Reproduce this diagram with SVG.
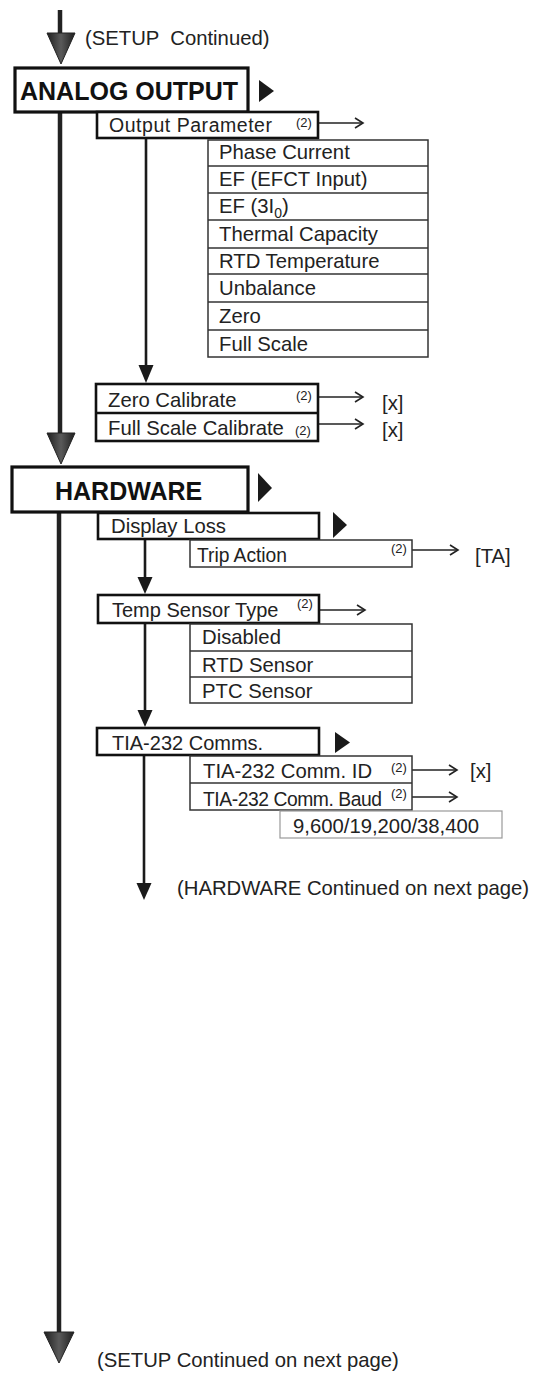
<svg xmlns="http://www.w3.org/2000/svg" width="539" height="1394" viewBox="0 0 539 1394">
<defs>
<linearGradient id="headGrad" x1="0" y1="0" x2="1" y2="0">
<stop offset="0" stop-color="#1e1e1e"/>
<stop offset="0.5" stop-color="#5a5a5a"/>
<stop offset="1" stop-color="#1e1e1e"/>
</linearGradient>
<marker id="chev" markerWidth="12" markerHeight="12" refX="9" refY="6" orient="auto" markerUnits="userSpaceOnUse">
<polyline points="1,1 9,6 1,11" fill="none" stroke="#222" stroke-width="1.6"/>
</marker>
</defs>
<style>
.t{font-family:"Liberation Sans",Arial,sans-serif;fill:#222;font-size:20.3px}
.b{font-family:"Liberation Sans",Arial,sans-serif;fill:#111;font-size:25px;font-weight:bold}
.sup{font-family:"Liberation Sans",Arial,sans-serif;fill:#222;font-size:13px}
.main{fill:#fff;stroke:#111;stroke-width:3.2}
.sub{fill:#fff;stroke:#111;stroke-width:2.6}
.opt{fill:#fff;stroke:#333;stroke-width:1.5}
.sep{stroke:#333;stroke-width:1.3}
.ind{fill:#1a1a1a}
.trunk{stroke:#222;stroke-width:4.5;fill:none}
.branch{stroke:#1a1a1a;stroke-width:2.6;fill:none}
.harr{stroke:#222;stroke-width:1.6;fill:none;marker-end:url(#chev)}
.bighead{fill:url(#headGrad);stroke:#222;stroke-width:1}
.smallhead{fill:#1a1a1a}
</style>

<g id="connectors">
<line class="trunk" x1="60" y1="10" x2="60" y2="36"/>
<polygon class="bighead" points="47,33 75,33 61,64"/>
<line class="trunk" x1="60" y1="112" x2="60" y2="436"/>
<polygon class="bighead" points="47,433 75,433 61,464"/>
<line class="trunk" x1="59" y1="512" x2="59" y2="1335"/>
<polygon class="bighead" points="44,1332 74,1332 59,1363"/>

<line class="branch" x1="146" y1="138" x2="146" y2="368"/>
<polygon class="smallhead" points="138.5,365 153.5,365 146,383"/>
<line class="branch" x1="145" y1="539" x2="145" y2="580"/>
<polygon class="smallhead" points="137.5,577 152.5,577 145,594"/>
<line class="branch" x1="145" y1="623" x2="145" y2="713"/>
<polygon class="smallhead" points="137.5,710 152.5,710 145,727"/>
<line class="branch" x1="144" y1="755" x2="144" y2="886"/>
<polygon class="smallhead" points="136.5,883 151.5,883 144,900"/>

<line class="harr" x1="318" y1="123" x2="363" y2="123"/>
<line class="harr" x1="318" y1="397" x2="363" y2="397"/>
<line class="harr" x1="318" y1="424" x2="363" y2="424"/>
<line class="harr" x1="412" y1="550" x2="458" y2="550"/>
<line class="harr" x1="319" y1="610" x2="365" y2="610"/>
<line class="harr" x1="412" y1="770" x2="457" y2="770"/>
<line class="harr" x1="412" y1="797" x2="457" y2="797"/>
</g>

<g id="setup-continued">
<text class="t" x="85" y="45" xml:space="preserve">(SETUP  Continued)</text>
</g>

<g id="analog-output">
<rect class="main" x="15" y="68" width="233" height="44"/>
<text class="b" x="20" y="100">ANALOG OUTPUT</text>
<polygon class="ind" points="259,80 274,91 259,102"/>
</g>

<g id="output-parameter">
<rect class="sub" x="97" y="112" width="221" height="26"/>
<text class="t" x="109" y="132" style="font-size:19.5px" textLength="163">Output Parameter</text>
<text class="sup" x="296" y="127">(2)</text>
</g>

<g id="output-parameter-options">
<rect class="opt" x="208" y="140" width="220" height="217"/>
<line class="sep" x1="208" y1="166" x2="428" y2="166"/>
<line class="sep" x1="208" y1="193" x2="428" y2="193"/>
<line class="sep" x1="208" y1="220" x2="428" y2="220"/>
<line class="sep" x1="208" y1="248" x2="428" y2="248"/>
<line class="sep" x1="208" y1="274" x2="428" y2="274"/>
<line class="sep" x1="208" y1="302" x2="428" y2="302"/>
<line class="sep" x1="208" y1="330" x2="428" y2="330"/>
<text class="t" x="219" y="159">Phase Current</text>
<text class="t" x="219" y="186">EF (EFCT Input)</text>
<text class="t" x="219" y="213">EF (3I<tspan dy="5" style="font-size:14px">0</tspan><tspan dy="-5">)</tspan></text>
<text class="t" x="219" y="241">Thermal Capacity</text>
<text class="t" x="219" y="268">RTD Temperature</text>
<text class="t" x="219" y="295">Unbalance</text>
<text class="t" x="219" y="323">Zero</text>
<text class="t" x="219" y="351">Full Scale</text>
</g>

<g id="calibrate">
<rect class="sub" x="96" y="384" width="222" height="57"/>
<line x1="96" y1="413" x2="318" y2="413" stroke="#111" stroke-width="2.6"/>
<text class="t" x="108" y="407">Zero Calibrate</text>
<text class="sup" x="296" y="400">(2)</text>
<text class="t" x="108" y="435">Full Scale Calibrate</text>
<text class="sup" x="295" y="435">(2)</text>
<text class="t" x="382" y="410">[x]</text>
<text class="t" x="382" y="437">[x]</text>
</g>

<g id="hardware">
<rect class="main" x="12" y="467" width="236" height="45"/>
<text class="b" x="55" y="500">HARDWARE</text>
<polygon class="ind" points="258,473 272,488 258,502"/>
</g>

<g id="display-loss">
<rect class="sub" x="98" y="513" width="221" height="26"/>
<text class="t" x="111" y="533">Display Loss</text>
<polygon class="ind" points="333,512 347,525 333,538"/>
</g>

<g id="trip-action">
<rect class="opt" x="190" y="540" width="222" height="27"/>
<text class="t" x="197" y="562" style="font-size:19.3px" textLength="90">Trip Action</text>
<text class="sup" x="391" y="553">(2)</text>
<text class="t" x="475" y="563">[TA]</text>
</g>

<g id="temp-sensor-type">
<rect class="sub" x="98" y="595" width="221" height="28"/>
<text class="t" x="112" y="617" style="font-size:20px">Temp Sensor Type</text>
<text class="sup" x="297" y="608">(2)</text>
</g>

<g id="temp-sensor-options">
<rect class="opt" x="190" y="624" width="222" height="79"/>
<line class="sep" x1="190" y1="651" x2="412" y2="651"/>
<line class="sep" x1="190" y1="677" x2="412" y2="677"/>
<text class="t" x="202" y="644">Disabled</text>
<text class="t" x="202" y="672">RTD Sensor</text>
<text class="t" x="202" y="698">PTC Sensor</text>
</g>

<g id="tia-232-comms">
<rect class="sub" x="97" y="728" width="222" height="27"/>
<text class="t" x="112" y="750" style="font-size:20px">TIA-232 Comms.</text>
<polygon class="ind" points="335,732 350,742.5 335,753"/>
</g>

<g id="tia-232-settings">
<rect class="opt" x="190" y="756" width="222" height="54"/>
<line class="sep" x1="190" y1="783" x2="412" y2="783"/>
<text class="t" x="203" y="778">TIA-232 Comm. ID</text>
<text class="sup" x="391" y="772">(2)</text>
<text class="t" x="470" y="778">[x]</text>
<text class="t" x="203" y="806" style="font-size:19.3px" textLength="179">TIA-232 Comm. Baud</text>
<text class="sup" x="391" y="798">(2)</text>
</g>

<g id="baud-options">
<rect x="280" y="811" width="222" height="27" fill="#fff" stroke="#999" stroke-width="1.2"/>
<text class="t" x="293" y="833">9,600/19,200/38,400</text>
</g>

<g id="hardware-continued">
<text class="t" x="177" y="895">(HARDWARE Continued on next page)</text>
</g>

<g id="setup-continued-next">
<text class="t" x="97" y="1367">(SETUP Continued on next page)</text>
</g>
</svg>
